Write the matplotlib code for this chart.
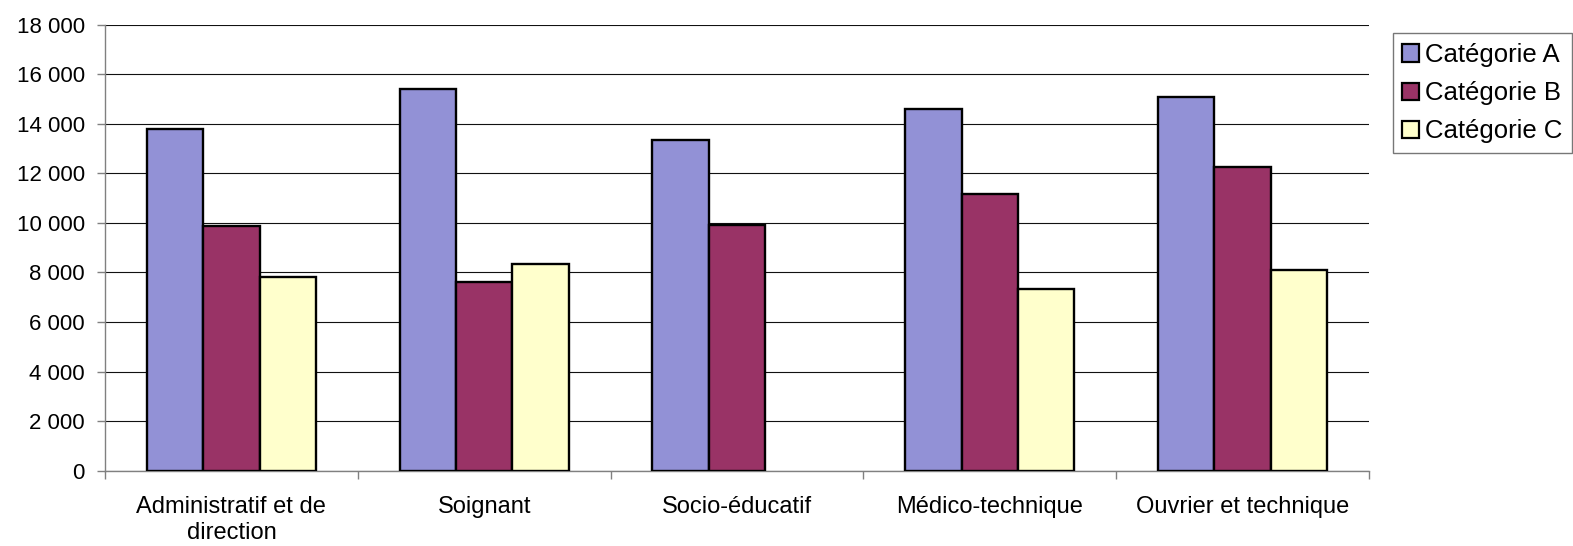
import matplotlib
matplotlib.use("Agg")
import matplotlib.pyplot as plt
import numpy as np
from matplotlib.ticker import FuncFormatter, FixedLocator
from matplotlib.patches import Patch

categories = ["Administratif et de\ndirection", "Soignant", "Socio-éducatif",
              "Médico-technique", "Ouvrier et technique"]
series_names = ["Catégorie A", "Catégorie B", "Catégorie C"]
cat_a = [13800, 15400, 13350, 14600, 15100]
cat_b = [9880, 7610, 9930, 11170, 12240]
cat_c = [7810, 8350, 0, 7340, 8100]
colors = ["#9291D6", "#993366", "#FFFFCC"]
yticks = list(range(0, 18001, 2000))

plt.rcParams['font.family'] = ['Liberation Sans', 'DejaVu Sans']

fig = plt.figure(figsize=(15.73, 5.46), dpi=100)
ax = fig.add_axes([105/1573, 1-470.7/546, (1369-105)/1573, (470.7-24.7)/546])

x = np.arange(len(categories))
w = 0.223
for i, (vals, col) in enumerate(zip([cat_a, cat_b, cat_c], colors)):
    ax.bar(x + (i-1)*w, vals, width=w, color=col, edgecolor="black",
           linewidth=[1.7 if v > 0 else 0 for v in vals], zorder=3)

ax.set_xlim(-0.5, len(categories)-0.5)
ax.set_ylim(0, 18000)
ax.set_yticks(yticks)
ax.yaxis.set_major_formatter(FuncFormatter(lambda v, p: f"{int(v):,}".replace(",", " ")))
ax.yaxis.grid(True, color="#111111", linewidth=0.8, zorder=0)
ax.set_axisbelow(True)

ax.xaxis.set_major_locator(FixedLocator(np.arange(-0.5, len(categories), 1.0)))
ax.xaxis.set_major_formatter(FuncFormatter(lambda v, p: ""))
ax.xaxis.set_minor_locator(FixedLocator(x))
ax.set_xticklabels(categories, minor=True)
ax.tick_params(axis="x", which="major", length=5.6, width=1, color="#808080", direction="out")
ax.tick_params(axis="x", which="minor", length=0, pad=18.5, labelsize=17)
for lab in ax.get_xticklabels(minor=True):
    lab.set_linespacing(1.22)
ax.tick_params(axis="y", length=5.8, width=1, color="#808080", direction="out", pad=8.6, labelsize=16)

for s in ["top", "right"]:
    ax.spines[s].set_visible(False)
for s in ["left", "bottom"]:
    ax.spines[s].set_color("#808080")
    ax.spines[s].set_linewidth(1)

handles = [Patch(facecolor=c, edgecolor="black", linewidth=1.6) for c in colors]
leg = fig.legend(handles, series_names, loc="upper left",
                 bbox_to_anchor=(1392.7/1573, 1-33.3/546), fontsize=18.5,
                 frameon=True, fancybox=False, edgecolor="#555555",
                 handlelength=0.66, handleheight=0.66, handletextpad=0.23,
                 labelspacing=0.55, borderpad=0.38, borderaxespad=0)
leg.get_frame().set_linewidth(1)

fig.savefig("out.png", dpi=100)
